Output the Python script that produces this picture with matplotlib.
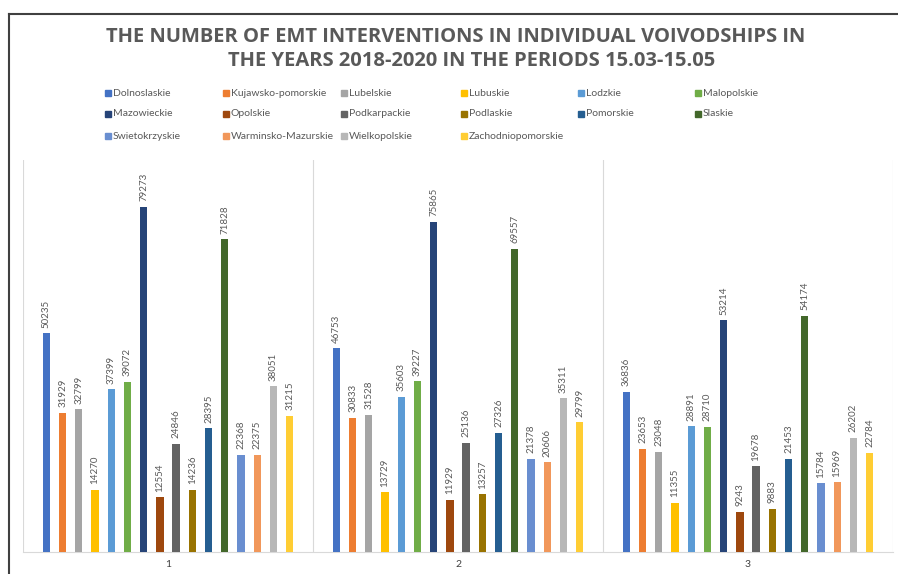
"""
EMT interventions per voivodship, 2018-2020 (15.03-15.05)
"""

import matplotlib.pyplot as plt
import numpy as np
from matplotlib.lines import Line2D
from matplotlib.patches import Rectangle

plt.rcParams["font.family"] = ["Lato", "DejaVu Sans"]

categories = ["1", "2", "3"]
regions = [
    "Dolnoslaskie", "Kujawsko-pomorskie", "Lubelskie", "Lubuskie", "Lodzkie", "Malopolskie",
    "Mazowieckie", "Opolskie", "Podkarpackie", "Podlaskie", "Pomorskie", "Slaskie",
    "Swietokrzyskie", "Warminsko-Mazurskie", "Wielkopolskie", "Zachodniopomorskie",
]
period_1 = [50235, 31929, 32799, 14270, 37399, 39072, 79273, 12554,
            24846, 14236, 28395, 71828, 22368, 22375, 38051, 31215]
period_2 = [46753, 30833, 31528, 13729, 35603, 39227, 75865, 11929,
            25136, 13257, 27326, 69557, 21378, 20606, 35311, 29799]
period_3 = [36836, 23653, 23048, 11355, 28891, 28710, 53214, 9243,
            19678, 9883, 21453, 54174, 15784, 15969, 26202, 22784]
colors = [
    "#4472C4", "#ED7D31", "#A5A5A5", "#FFC000", "#5B9BD5", "#70AD47",
    "#264478", "#9E480E", "#636363", "#997300", "#255E91", "#43682B",
    "#698ED0", "#F1975A", "#B7B7B7", "#FFCD33",
]

TEXT = "#595959"


def main():
    values = np.array([period_1, period_2, period_3])  # shape (3, 16)
    fig = plt.figure(figsize=(8.98, 5.74), dpi=100)
    ax = fig.add_axes([23 / 898, 1 - 552 / 574, 870 / 898, 392 / 574])

    x = np.arange(len(categories))
    pitch = 0.0559
    width = 0.025
    n = len(regions)
    for i, (name, col) in enumerate(zip(regions, colors)):
        xs = x + (i - (n - 1) / 2) * pitch
        bars = ax.bar(xs, values[:, i], width=width, color=col, label=name, zorder=3)
        for b, v in zip(bars, values[:, i]):
            ax.annotate(str(v), (b.get_x() + b.get_width() / 2, v),
                        xytext=(0, 4), textcoords="offset points",
                        rotation=90, ha="center", va="bottom",
                        fontsize=7, color=TEXT)

    ax.set_xlim(-0.5, len(categories) - 0.5)
    ax.set_ylim(0, 90000)
    ax.set_xticks(x, categories, fontsize=7.5, color="#404040")
    ax.tick_params(axis="x", length=0, pad=6)
    ax.set_yticks([])
    for s in ["top", "right", "left"]:
        ax.spines[s].set_visible(False)
    ax.spines["bottom"].set_color("#d9d9d9")
    for b in np.arange(-0.5, len(categories)):
        ax.axvline(b, color="#d9d9d9", lw=0.8, zorder=1)

    # title
    fig.text(456 / 898, 1 - 37 / 574,
             "THE NUMBER OF EMT INTERVENTIONS IN INDIVIDUAL VOIVODSHIPS IN",
             ha="center", va="center", fontsize=14.5, fontweight="bold",
             color=TEXT, family=["Open Sans", "DejaVu Sans"])
    fig.text(472 / 898, 1 - 61 / 574,
             "THE YEARS 2018-2020 IN THE PERIODS 15.03-15.05",
             ha="center", va="center", fontsize=14.5, fontweight="bold",
             color=TEXT, family=["Open Sans", "DejaVu Sans"])

    # legend laid out row by row, 6 per row
    col_x = [105, 223, 341, 461, 578, 695]
    row_y = [93, 114, 136]
    for i, (name, col) in enumerate(zip(regions, colors)):
        cx = col_x[i % 6]
        cy = row_y[i // 6]
        fig.add_artist(Rectangle((cx / 898, 1 - (cy + 3) / 574), 6 / 898, 6 / 574,
                                 transform=fig.transFigure, color=col))
        fig.text((cx + 8) / 898, 1 - cy / 574, name, ha="left", va="center",
                 fontsize=7.5, color=TEXT)

    # outer frame (partially visible in the reference)
    fig.add_artist(Line2D([9 / 898, 9 / 898], [0, 1 - 14 / 574],
                          transform=fig.transFigure, color="#404040", lw=1.5))
    fig.add_artist(Line2D([9 / 898, 1], [1 - 14 / 574, 1 - 14 / 574],
                          transform=fig.transFigure, color="#404040", lw=1.5))

    fig.savefig("out.png", dpi=100)
    plt.close(fig)


if __name__ == "__main__":
    main()
